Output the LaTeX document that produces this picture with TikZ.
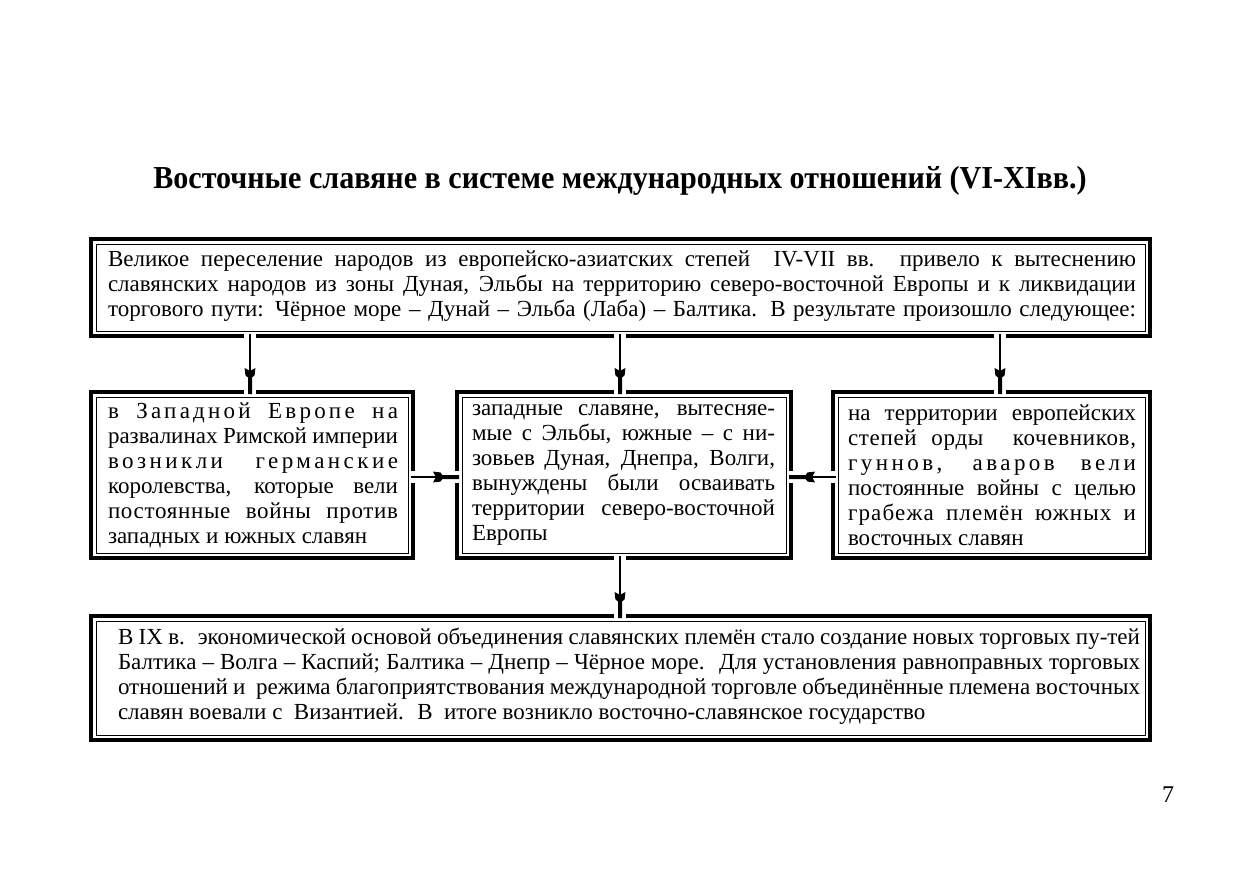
\documentclass[tikz,border=0pt]{standalone}
\usepackage{fontspec}
\setmainfont{Liberation Serif}
\usetikzlibrary{arrows.meta,calc}
\newcommand{\jl}[1]{\makebox[\hsize][s]{#1}}
\newcommand{\jls}[2]{\makebox[\hsize][s]{\addfontfeature{LetterSpace=#1}#2}}
\pgfdeclarearrow{
  name = Plug,
  setup code = {
    \pgfarrowssettipend{0pt}
    \pgfarrowssetbackend{-13pt}
    \pgfarrowssetlineend{-11.5pt}
    \pgfarrowshullpoint{0pt}{1pt}
    \pgfarrowshullpoint{0pt}{-1pt}
    \pgfarrowshullpoint{-13pt}{2.7pt}
    \pgfarrowshullpoint{-13pt}{-2.7pt}
  },
  drawing code = {
    \pgfpathmoveto{\pgfqpoint{0pt}{1pt}}
    \pgfpathlineto{\pgfqpoint{-8.3pt}{1pt}}
    \pgfpathlineto{\pgfqpoint{-9.3pt}{2.3pt}}
    \pgfpathlineto{\pgfqpoint{-13pt}{2.7pt}}
    \pgfpathlineto{\pgfqpoint{-11.8pt}{0.5pt}}
    \pgfpathlineto{\pgfqpoint{-11.8pt}{-0.5pt}}
    \pgfpathlineto{\pgfqpoint{-13pt}{-2.7pt}}
    \pgfpathlineto{\pgfqpoint{-9.3pt}{-2.3pt}}
    \pgfpathlineto{\pgfqpoint{-8.3pt}{-1pt}}
    \pgfpathlineto{\pgfqpoint{0pt}{-1pt}}
    \pgfpathclose
    \pgfusepathqfill
  }
}
\begin{document}
\begin{tikzpicture}[x=0.5pt,y=-0.5pt,
  box/.style={draw, line width=2pt, outer sep=0pt, inner sep=0pt},
  inbox/.style={line width=0.5pt},
  txt/.style={inner sep=0pt, align=justify, font=\fontsize{11.5pt}{12.5pt}\selectfont},
  arr/.style={line width=0.7pt, -{Plug},
    preaction={draw=white, line width=6pt, arrows=-}}
]
\useasboundingbox (0,0) rectangle (1241,875);

\node[font=\bfseries\fontsize{16pt}{18pt}\selectfont, anchor=base, inner sep=0pt] (title) at (620,188)
  {\scalebox{0.94}[1]{Восточные славяне в системе международных отношений (VI-XIвв.)}};

\node[box, minimum width=529.5pt, minimum height=48.5pt] (b1) at (620.5,287.5) {};
\node[box, minimum width=161pt, minimum height=83pt] (b2) at (252,475) {};
\node[box, minimum width=167pt, minimum height=83pt] (b3) at (624,475) {};
\node[box, minimum width=158.5pt, minimum height=83pt] (b4) at (991.5,475) {};
\node[box, minimum width=529.5pt, minimum height=62pt] (b5) at (620.5,678) {};
\foreach \n in {b1,b2,b3,b4,b5}
  \draw[inbox] ([shift={(5,5)}]\n.north west) rectangle ([shift={(-5,-5)}]\n.south east);

\node[txt, text width=514pt] (t1) at (622,286) {%
\jl{Великое переселение народов из европейско-азиатских степей \ IV-VII вв. привело к вытеснению}\\
\jl{славянских народов из зоны Дуная, Эльбы на территорию северо-восточной Европы и к ликвидации}\\
\jl{торгового пути: Чёрное море – Дунай – Эльба (Лаба) – Балтика. В результате произошло следующее:}};

\node[txt, text width=145pt] (t2) at (253,475) {%
\jls{14}{в Западной Европе на}\\
\jl{развалинах Римской империи}\\
\jls{15}{возникли германские}\\
\jl{королевства, которые вели}\\
\jls{3}{постоянные войны против}\\
западных и южных славян};

\node[txt, text width=151.5pt] (t3) at (623.5,475) {%
\jl{западные славяне, вытесняе-}\\
\jl{мые с Эльбы, южные – с ни-}\\
\jl{зовьев Дуная, Днепра, Волги,}\\
\jl{вынуждены были осваивать}\\
\jl{территории северо-восточной}\\
Европы};

\node[txt, text width=144pt] (t4) at (992,475) {%
\jl{на территории европейских}\\
\jls{3}{степей орды \ кочевников,}\\
\jls{15}{гуннов, аваров вели}\\
\jl{постоянные войны с целью}\\
\jls{5}{грабежа племён южных и}\\
восточных славян};

\node[txt, text width=511pt] (t5) at (629,676) {%
\jl{В IX в. \ экономической основой объединения славянских племён стало создание новых торговых пу-тей}\\
\jl{Балтика – Волга – Каспий; Балтика – Днепр – Чёрное море. \ Для установления равноправных торговых}\\
\jl{отношений и \ режима благоприятствования международной торговле объединённые племена восточных}\\
славян воевали с \ Византией. \ В \ итоге возникло восточно-славянское государство};

\coordinate (xa) at (250,0);
\coordinate (xb) at (620,0);
\coordinate (xc) at (1000,0);
\coordinate (ya) at (0,477);

\draw[arr] ($(b1.south -| xa)+(0,-2.5)$) -- ($(b2.north -| xa)+(0,2)$);
\draw[arr] ($(b1.south -| xb)+(0,-2.5)$) -- ($(b3.north -| xb)+(0,2)$);
\draw[arr] ($(b1.south -| xc)+(0,-2.5)$) -- ($(b4.north -| xc)+(0,2)$);
\draw[arr] ($(b3.south -| xb)+(0,-2.5)$) -- ($(b5.north -| xb)+(0,2)$);
\draw[arr] ($(b2.east |- ya)+(-2.5,0)$) -- ($(b3.west |- ya)+(2,0)$);
\draw[arr] ($(b4.west |- ya)+(2.5,0)$) -- ($(b3.east |- ya)+(-2,0)$);

\node[font=\fontsize{12pt}{14pt}\selectfont, anchor=base, inner sep=0pt] (pg) at (1168,802) {7};
\end{tikzpicture}
\end{document}
